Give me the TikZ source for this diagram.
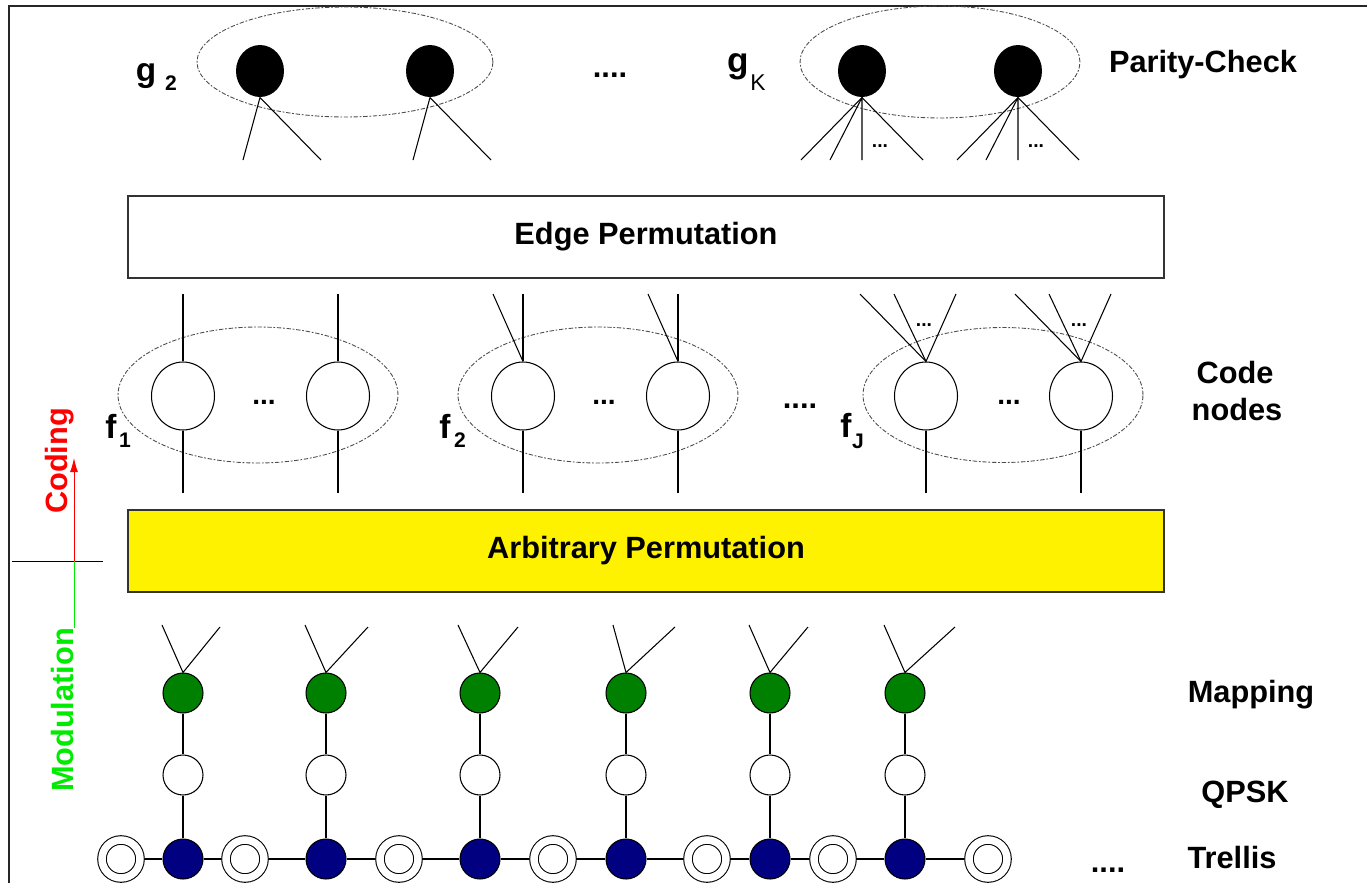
\documentclass[tikz,border=0pt]{standalone}
\usepackage{fontspec}
\setmainfont{Liberation Sans}
\usetikzlibrary{calc, positioning, shapes, arrows.meta}
\definecolor{mapgreen}{RGB}{0,128,0}
\definecolor{trlblue}{RGB}{0,0,128}
\definecolor{modgreen}{RGB}{0,235,0}

\begin{document}
\begin{tikzpicture}[x=0.02cm, y=-0.02cm, line width=0.6pt, font=\bfseries\fontsize{17.5}{21}\selectfont,
  chk/.style={fill=black, ellipse, minimum width=0.96cm, minimum height=1.04cm, inner sep=0pt},
  cnd/.style={draw, fill=white, ellipse, minimum width=1.26cm, minimum height=1.36cm, inner sep=0pt},
  grp/.style={draw=black!70, ellipse, dash pattern=on 2.5pt off 1pt on 1pt off 1pt, line width=0.5pt, inner sep=0pt},
  perm/.style={draw=black!80, line width=0.9pt, minimum width=20.72cm, minimum height=1.64cm, inner sep=0pt},
  mapnd/.style={draw, fill=mapgreen, circle, minimum size=0.8cm, inner sep=0pt},
  psk/.style={draw, fill=white, circle, minimum size=0.8cm, inner sep=0pt},
  trl/.style={draw, fill=trlblue, circle, minimum size=0.8cm, inner sep=0pt},
  dbl/.style={draw, fill=white, circle, double, double distance=0.15cm, minimum size=0.76cm, inner sep=0pt, outer sep=2.7pt},
  idx/.style={anchor=base, font=\bfseries\fontsize{19}{22}\selectfont},
  sub/.style={anchor=base, font=\bfseries\fontsize{12}{14}\selectfont},
  sdots/.style={anchor=base, font=\bfseries\fontsize{11}{13}\selectfont},
  mdots/.style={anchor=base, font=\bfseries\fontsize{16}{18}\selectfont}]
  \useasboundingbox (0,0) rectangle (1367,883);

  \coordinate (fr1) at (9,883);
  \coordinate (fr2) at (9,6);
  \coordinate (fr3) at (1367,6);
  \draw[black!85, line width=1pt] (fr1) -- (fr2) -- (fr3);

  \node[grp, minimum width=5.92cm, minimum height=2.2cm] (G2) at (345,62) {};
  \node[grp, minimum width=5.6cm, minimum height=2.24cm] (GK) at (940,62) {};
  \foreach \n/\x in {p1/260, p2/430} {
    \node[chk] (\n) at (\x,71) {};
    \coordinate (\n-l) at (\x-17,160);
    \coordinate (\n-r) at (\x+61,160);
    \draw (\n-l) -- (\n.south) -- (\n-r);
  }
  \foreach \n/\x in {k1/862, k2/1018} {
    \node[chk] (\n) at (\x,71) {};
    \coordinate (\n-a) at (\x-61,160);
    \coordinate (\n-b) at (\x-32,160);
    \coordinate (\n-c) at (\x,160);
    \coordinate (\n-d) at (\x+61,160);
    \draw (\n-a) -- (\n.south) -- (\n-d);
    \draw (\n-b) -- (\n.south) -- (\n-c);
    \node[sdots] (\n-dots) at (\x+18,147) {...};
  }
  \node[idx] (g2) at (146,81) {g};
  \node[sub] (g2s) at (171,90) {2};
  \node[idx, font=\bfseries\fontsize{20}{24}\selectfont] (gK) at (738,72) {g};
  \node[sub, font=\fontsize{13}{15}\selectfont] (gKs) at (758,90) {K};
  \node[anchor=base] (gdots) at (610,77) {....};
  \node[anchor=base] (lpc) at (1203,72) {Parity-Check};

  \node[perm] (edge) at (646,237) {Edge Permutation};

  \node[grp, minimum width=5.6cm, minimum height=2.72cm] (F1) at (258,395) {};
  \node[grp, minimum width=5.6cm, minimum height=2.72cm] (F2) at (598,395) {};
  \node[grp, minimum width=5.6cm, minimum height=2.7cm] (FJ) at (1003,395) {};
  \foreach \n/\x in {a1/183, a2/338, b1/523, b2/678, c1/926, c2/1081} {
    \node[cnd] (\n) at (\x,396) {};
    \coordinate (\n-dn) at (\x,493);
    \draw (\n) -- (\n-dn);
  }
  \foreach \n/\x in {a1/183, a2/338, b1/523, b2/678} {
    \coordinate (\n-up) at (\x,294);
    \draw (\n) -- (\n-up);
  }
  \foreach \n/\x in {b1/523, b2/678} {
    \coordinate (\n-sl) at (\x-30,294);
    \draw (\n.north) -- (\n-sl);
  }
  \foreach \n/\x in {c1/926, c2/1081} {
    \coordinate (\n-a) at (\x-66,294);
    \coordinate (\n-b) at (\x-32,294);
    \coordinate (\n-c) at (\x+30,294);
    \draw (\n-a) -- (\n.north) -- (\n-c);
    \draw (\n-b) -- (\n.north);
    \node[sdots] (\n-dots) at (\x-2,326) {...};
  }
  \node[mdots] (f1dots) at (264,404) {...};
  \node[mdots] (f2dots) at (604,404) {...};
  \node[mdots] (fJdots) at (1009,404) {...};
  \node[anchor=base] (fdots) at (800,408) {....};
  \node[idx] (f1) at (111,438) {f};
  \node[sub] (f1s) at (125,447) {1};
  \node[idx] (f2) at (445,438) {f};
  \node[sub] (f2s) at (460,447) {2};
  \node[idx] (fJ) at (846,437) {f};
  \node[sub] (fJs) at (858,448) {J};
  \node[anchor=base] (lcode) at (1235,383) {Code};
  \node[anchor=base] (lnodes) at (1237,420) {nodes};

  \node[perm, fill=yellow] (arb) at (646,551) {Arbitrary Permutation};

  \coordinate (ax0) at (74,561);
  \coordinate (axl) at (12,561);
  \coordinate (axr) at (103,561);
  \coordinate (axup) at (74,458);
  \coordinate (axdn) at (74,628);
  \draw[line width=0.5pt] (axl) -- (axr);
  \draw[red, line width=0.5pt, -{Latex[length=8pt,width=4.5pt]}] (ax0) -- (axup);
  \draw[modgreen, line width=0.5pt] (ax0) -- (axdn);
  \node[rotate=90, anchor=base, text=red] (lcod) at (67,461) {Coding};
  \node[rotate=90, anchor=base, text=modgreen] (lmod) at (73,710) {Modulation};

  \foreach \j/\x in {1/121, 2/245, 3/399, 4/553, 5/707, 6/833, 7/988}
    \node[dbl] (d\j) at (\x,859) {};
  \foreach \i/\x/\l/\r in {1/183/21/37, 2/326/21/42, 3/480/22/38, 4/626/13/49, 5/770/21/38, 6/905/21/50} {
    \node[mapnd] (m\i) at (\x,693) {};
    \node[psk] (q\i) at (\x,775) {};
    \node[trl] (t\i) at (\x,859) {};
    \coordinate (m\i-l) at (\x-\l,625);
    \coordinate (m\i-r) at (\x+\r,627);
    \draw (m\i-l) -- (m\i.north) -- (m\i-r);
    \draw (m\i) -- (q\i) -- (t\i);
  }
  \draw (d1) -- (t1) -- (d2) -- (t2) -- (d3) -- (t3) -- (d4) -- (t4) -- (d5) -- (t5) -- (d6) -- (t6) -- (d7);
  \node[anchor=base] (tdots) at (1108,872) {....};
  \node[anchor=base] (lmap) at (1251,702) {Mapping};
  \node[anchor=base] (lpsk) at (1245,802) {QPSK};
  \node[anchor=base] (ltrl) at (1232,868) {Trellis};
\end{tikzpicture}
\end{document}
